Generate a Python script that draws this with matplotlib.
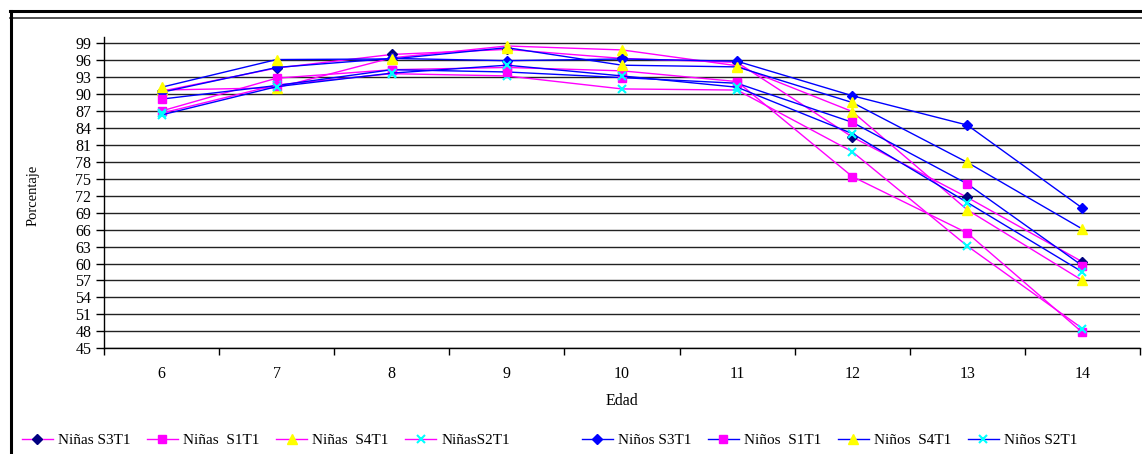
import matplotlib
matplotlib.use("Agg")
import matplotlib.pyplot as plt
from matplotlib.lines import Line2D
import numpy as np

ages = ["6", "7", "8", "9", "10", "11", "12", "13", "14"]
y_ticks = list(range(45, 100, 3))

ninas_s3t1 = [90.5, 94.6, 97.0, 97.9, 96.3, 95.6, 82.4, 71.7, 60.3]
ninas_s1t1 = [87.0, 92.8, 94.3, 94.7, 94.1, 92.2, 75.4, 65.4, 47.8]
ninas_s4t1 = [90.7, 91.1, 96.4, 98.5, 97.8, 95.0, 86.9, 69.5, 57.0]
ninas_s2t1 = [86.6, 91.6, 93.6, 93.2, 90.9, 90.7, 79.8, 63.1, 48.5]
ninos_s3t1 = [90.3, 94.7, 96.3, 95.9, 96.2, 95.8, 89.7, 84.5, 69.8]
ninos_s1t1 = [89.1, 91.5, 94.3, 93.9, 92.9, 91.9, 85.0, 74.1, 59.6]
ninos_s4t1 = [91.2, 96.1, 96.2, 98.2, 95.1, 94.8, 88.5, 77.9, 66.1]
ninos_s2t1 = [86.3, 91.3, 93.7, 95.1, 93.2, 91.2, 83.0, 70.8, 58.5]

labels = ["Niñas S3T1", "Niñas  S1T1", "Niñas  S4T1", "NiñasS2T1",
          "Niños S3T1", "Niños  S1T1", "Niños  S4T1", "Niños S2T1"]
series = [ninas_s3t1, ninas_s1t1, ninas_s4t1, ninas_s2t1,
          ninos_s3t1, ninos_s1t1, ninos_s4t1, ninos_s2t1]

MAG = "#FF00FF"
BLUE = "#0000FF"
styles = [
    dict(color=MAG, marker="D", mfc="#000080", mec="#000080", ms=5),
    dict(color=MAG, marker="s", mfc=MAG, mec=MAG, ms=6),
    dict(color=MAG, marker="^", mfc="#FFFF00", mec="#FFFF00", ms=7),
    dict(color=MAG, marker="x", mfc="#00FFFF", mec="#00FFFF", ms=6, mew=1.5),
    dict(color=BLUE, marker="D", mfc=BLUE, mec=BLUE, ms=5),
    dict(color=BLUE, marker="s", mfc=MAG, mec=MAG, ms=6),
    dict(color=BLUE, marker="^", mfc="#FFFF00", mec="#FFFF00", ms=7),
    dict(color=BLUE, marker="x", mfc="#00FFFF", mec="#00FFFF", ms=6, mew=1.5),
]

plt.rcParams["font.family"] = ["Liberation Serif", "DejaVu Serif"]

W, H = 1142, 454
fig = plt.figure(figsize=(W / 100, H / 100), dpi=100)
ax = fig.add_axes([104 / W, 1 - 348.3 / H, (1140 - 104) / W, (348.3 - 37.5) / H])

x = np.arange(len(ages))
handles = []
for vals, lab, st in zip(series, labels, styles):
    h, = ax.plot(x, vals, label=lab, lw=1.0, **st)
    handles.append(h)

ax.set_xlim(-0.5, len(ages) - 0.5)
ax.set_ylim(45, 100)
ax.set_yticks(y_ticks)
ax.set_yticklabels([str(v) for v in y_ticks], fontsize=11.5)
ax.yaxis.grid(True, color="#222222", lw=1.0)
ax.set_axisbelow(True)

ax.set_xticks(np.arange(-0.5, len(ages), 1.0))
ax.set_xticklabels([])
ax.set_xticks(x, minor=True)
ax.set_xticklabels(ages, minor=True, fontsize=11.5)
ax.tick_params(axis="x", which="major", length=5, width=1, direction="out")
ax.tick_params(axis="x", which="minor", length=0, pad=13)
ax.tick_params(axis="y", length=6, width=1, pad=3)

for s in ["top", "right"]:
    ax.spines[s].set_visible(False)
ax.spines["left"].set_linewidth(1)
ax.spines["bottom"].set_linewidth(1)

ax.set_xlabel("Edad", fontsize=11.5, labelpad=8)
fig.text(33 / W, 1 - 195 / H, "Porcentaje", rotation=90, fontsize=10.5,
         ha="center", va="center")

leg_kw = dict(ncol=4, frameon=False, fontsize=11, handlelength=2.0,
              columnspacing=1.1, handletextpad=0.35, borderpad=0,
              borderaxespad=0)
leg1 = fig.legend(handles[:4], labels[:4], loc="center left",
                  bbox_to_anchor=(22 / W, 1 - 440 / H), **leg_kw)
leg2 = fig.legend(handles[4:], labels[4:], loc="center left",
                  bbox_to_anchor=(582 / W, 1 - 440 / H), **leg_kw)

# outer frame
fig.add_artist(Line2D([10 / W, 1], [1 - 11 / H, 1 - 11 / H], color="black", lw=2.2))
fig.add_artist(Line2D([10 / W, 1], [1 - 17.5 / H, 1 - 17.5 / H], color="#333333", lw=1.2))
fig.add_artist(Line2D([10.5 / W, 10.5 / W], [0, 1 - 11 / H], color="black", lw=2.2))

fig.savefig("out.png", dpi=100)
